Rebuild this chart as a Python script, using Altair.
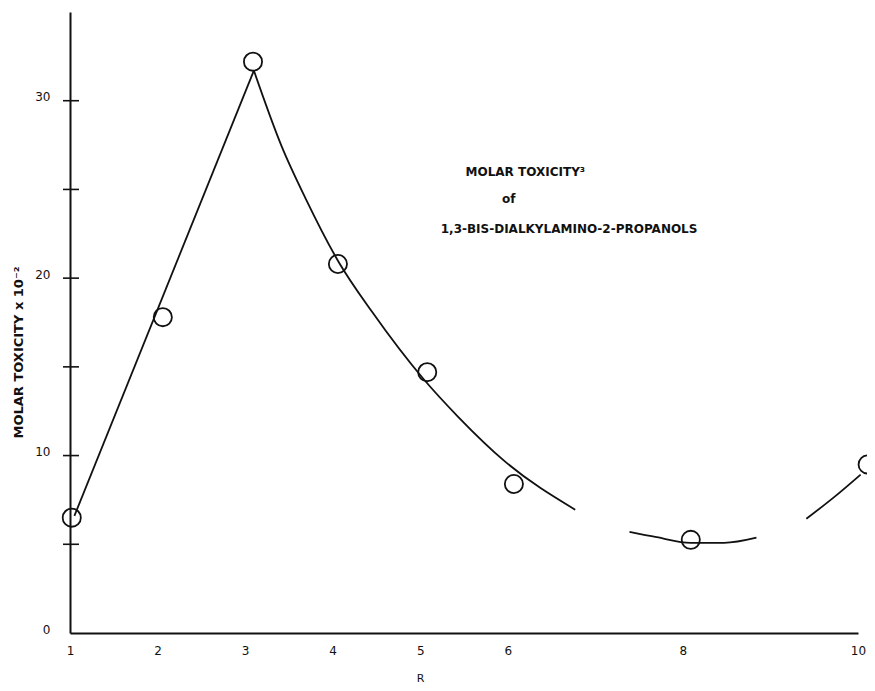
import altair as alt
import pandas as pd

# Observed data points (R, molar toxicity x 10^-2)
r_vals = [1.02, 2.06, 3.09, 4.06, 5.08, 6.07, 8.09, 10.11]
tox_vals = [6.5, 17.8, 32.2, 20.8, 14.7, 8.4, 5.25, 9.5]

# Hand-drawn curve, straight part
seg1_x = [1.05, 3.10]
seg1_y = [6.6, 31.7]
# Hand-drawn curve, smooth broken parts
seg2_x = [3.10, 3.42, 3.69, 4.07, 4.45, 5.04, 5.43, 5.97, 6.77]
seg2_y = [31.7, 27.4, 24.5, 20.9, 18.1, 14.3, 12.2, 9.66, 6.95]
seg3_x = [7.39, 7.7, 8.09, 8.47, 8.84]
seg3_y = [5.7, 5.4, 5.08, 5.08, 5.37]
seg4_x = [9.41, 9.72, 10.03]
seg4_y = [6.44, 7.63, 8.93]

x_tick_labels = [1, 2, 3, 4, 5, 6, 8, 10]
y_tick_labels = [0, 10, 20, 30]
y_tick_marks = [5, 10, 15, 20, 25, 30]

ann_text = ["MOLAR TOXICITY³", "of", "1,3-BIS-DIALKYLAMINO-2-PROPANOLS"]
ann_x = [6.2, 6.01, 6.70]
ann_y = [26.0, 24.46, 22.77]

INK = "#111111"
FONT = "DejaVu Sans"

pts = pd.DataFrame({"R": r_vals, "T": tox_vals})
straight = pd.DataFrame({"R": seg1_x, "T": seg1_y})
curves = pd.concat([
    pd.DataFrame({"R": seg2_x, "T": seg2_y, "seg": "a"}),
    pd.DataFrame({"R": seg3_x, "T": seg3_y, "seg": "b"}),
    pd.DataFrame({"R": seg4_x, "T": seg4_y, "seg": "c"}),
], ignore_index=True)
ticks = pd.DataFrame({"T": y_tick_marks})
ann = pd.DataFrame({"text": ann_text, "R": ann_x, "T": ann_y})

xscale = alt.Scale(domain=[1, 10], nice=False, zero=False)
yscale = alt.Scale(domain=[0, 35], nice=False)

xaxis = alt.Axis(values=x_tick_labels, format="d", ticks=False, grid=False,
                 domainColor=INK, domainWidth=2, labelFontSize=12, labelFont=FONT,
                 labelColor=INK, labelPadding=12, title="R", titleFont=FONT,
                 titleFontSize=11, titleFontWeight="normal", titleColor=INK,
                 titleX=350, titleY=45, titleBaseline="middle", labelFlush=False)
yaxis = alt.Axis(values=y_tick_labels, format="d", ticks=False, grid=False,
                 domainColor=INK, domainWidth=2, labelFontSize=12, labelFont=FONT,
                 labelColor=INK, labelPadding=20, labelOffset=-4,
                 title="MOLAR TOXICITY x 10⁻²", titleFont=FONT, titleFontSize=13,
                 titleFontWeight="bold", titleColor=INK, titleAngle=270,
                 titleX=-52, titleY=340, titleAlign="center",
                 titleBaseline="middle", labelFlush=False)

base_x = alt.X("R:Q", scale=xscale, axis=xaxis)
base_y = alt.Y("T:Q", scale=yscale, axis=yaxis)

line1 = alt.Chart(straight).mark_line(color=INK, strokeWidth=1.8).encode(
    x=base_x, y=base_y)
line2 = alt.Chart(curves).mark_line(color=INK, strokeWidth=1.8, interpolate="monotone").encode(
    x="R:Q", y="T:Q", detail="seg:N")
points = alt.Chart(pts).mark_point(shape="circle", size=330, filled=False,
                                   color=INK, strokeWidth=1.8, opacity=1).encode(
    x="R:Q", y="T:Q")
yticks = alt.Chart(ticks).mark_rule(color=INK, strokeWidth=1.6).encode(
    y="T:Q", x=alt.value(-7), x2=alt.value(9))
text = alt.Chart(ann).mark_text(font=FONT, fontSize=12, fontWeight="bold",
                                color=INK, align="center", baseline="middle").encode(
    x="R:Q", y="T:Q", text="text:N")

chart = alt.layer(line1, line2, yticks, points, text).properties(
    width=788, height=621,
    autosize=alt.AutoSizeParams(type="none"),
    padding={"left": 62, "top": 4, "right": 9, "bottom": 50},
    background="white",
).configure_view(stroke=None)

chart.save("out.html", embed_options={"renderer": "svg", "actions": False})
